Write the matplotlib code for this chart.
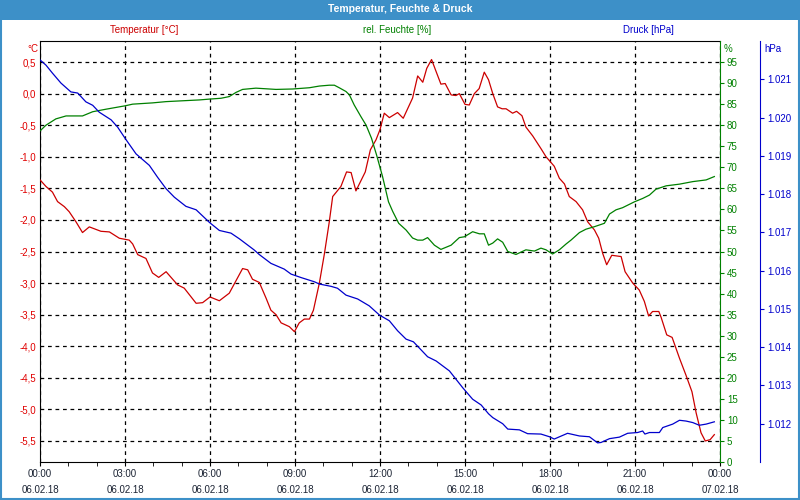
import matplotlib
matplotlib.use("Agg")
import matplotlib.pyplot as plt
from matplotlib.patches import Rectangle
from matplotlib.ticker import FuncFormatter, MultipleLocator

plt.rcParams['font.family'] = ['Liberation Sans', 'DejaVu Sans']

# hours since 06.02.18 00:00
temp_h = [0.01, 0.21, 0.44, 0.62, 0.86, 1.03, 1.27, 1.50, 1.74, 2.15, 2.45, 2.80, 3.15, 3.27,
          3.45, 3.74, 3.97, 4.19, 4.45, 4.86, 5.09, 5.51, 5.74, 6.00, 6.33, 6.68, 7.15, 7.33,
          7.50, 7.74, 7.98, 8.15, 8.33, 8.51, 8.80, 8.98, 9.15, 9.33, 9.51, 9.65, 9.86, 10.04,
          10.21, 10.33, 10.62, 10.82, 10.98, 11.15, 11.48, 11.66, 11.86, 12.00, 12.15, 12.33,
          12.62, 12.82, 13.15, 13.33, 13.51, 13.65, 13.82, 13.98, 14.15, 14.30, 14.51, 14.68,
          14.80, 15.00, 15.15, 15.33, 15.50, 15.68, 15.83, 15.98, 16.15, 16.31, 16.45, 16.68,
          16.82, 17.01, 17.15, 17.39, 17.68, 17.86, 18.15, 18.33, 18.51, 18.68, 18.92, 19.15,
          19.33, 19.57, 19.72, 19.86, 20.00, 20.18, 20.51, 20.65, 20.92, 21.15, 21.33, 21.48,
          21.62, 21.84, 21.92, 22.12, 22.31, 22.57, 22.80, 23.01, 23.16, 23.33, 23.48, 23.65,
          23.80]
temp_c = [-1.37, -1.47, -1.56, -1.71, -1.79, -1.87, -2.03, -2.20, -2.11, -2.18, -2.19, -2.29,
          -2.32, -2.38, -2.55, -2.61, -2.84, -2.91, -2.82, -3.03, -3.08, -3.32, -3.31, -3.22,
          -3.28, -3.16, -2.77, -2.79, -2.94, -2.99, -3.24, -3.43, -3.50, -3.63, -3.69, -3.77,
          -3.63, -3.57, -3.57, -3.43, -3.00, -2.53, -2.03, -1.63, -1.47, -1.24, -1.25, -1.54,
          -1.24, -0.89, -0.73, -0.57, -0.31, -0.38, -0.30, -0.39, -0.07, 0.28, 0.18, 0.40,
          0.54, 0.35, 0.15, 0.16, -0.02, -0.03, 0.00, -0.17, -0.18, 0.00, 0.08, 0.34, 0.22,
          0.00, -0.21, -0.24, -0.24, -0.31, -0.28, -0.35, -0.53, -0.67, -0.87, -1.00, -1.15,
          -1.34, -1.43, -1.63, -1.71, -1.84, -2.03, -2.16, -2.29, -2.53, -2.71, -2.56, -2.58,
          -2.82, -3.00, -3.11, -3.29, -3.52, -3.45, -3.45, -3.54, -3.82, -3.86, -4.19, -4.46,
          -4.72, -5.06, -5.37, -5.50, -5.48, -5.40]

hum_h = [0.01, 0.21, 0.56, 0.92, 1.50, 1.86, 2.33, 3.00, 3.27, 3.97, 4.45, 5.03, 5.62, 5.98,
         6.39, 6.68, 6.92, 7.15, 7.62, 8.33, 8.92, 9.51, 9.86, 10.21, 10.39, 10.56, 10.80,
         10.92, 11.09, 11.33, 11.51, 11.70, 11.88, 12.09, 12.30, 12.45, 12.66, 12.92, 13.15,
         13.33, 13.51, 13.68, 13.92, 14.15, 14.51, 14.80, 14.98, 15.27, 15.51, 15.68, 15.83,
         15.98, 16.15, 16.33, 16.51, 16.80, 17.15, 17.45, 17.68, 17.86, 18.09, 18.33, 18.57,
         18.74, 19.04, 19.27, 19.57, 19.92, 20.10, 20.33, 20.56, 20.98, 21.27, 21.51, 21.74,
         22.10, 22.57, 23.04, 23.51, 23.80]
hum_pct = [78.7, 80.0, 81.5, 82.2, 82.2, 83.2, 83.8, 84.6, 85.0, 85.3, 85.6, 85.8, 86.0, 86.2,
           86.4, 86.8, 87.8, 88.5, 88.8, 88.5, 88.6, 88.9, 89.3, 89.5, 89.5, 88.9, 88.0, 87.2,
           84.8, 82.0, 80.0, 76.9, 72.9, 67.8, 61.8, 59.5, 56.7, 55.1, 53.2, 52.7, 52.7, 53.3,
           51.5, 50.5, 51.5, 53.3, 53.5, 54.7, 54.2, 54.2, 51.5, 52.0, 53.0, 52.2, 50.0, 49.3,
           50.4, 50.1, 50.8, 50.4, 49.4, 50.4, 51.8, 52.7, 54.5, 55.3, 55.9, 56.7, 58.9, 59.9,
           60.4, 61.8, 62.6, 63.4, 64.8, 65.6, 66.0, 66.6, 67.0, 67.8]

pres_h = [0.01, 0.21, 0.44, 0.74, 1.09, 1.33, 1.62, 1.86, 2.09, 2.51, 2.74, 3.01, 3.39, 3.86,
          4.15, 4.45, 4.74, 5.15, 5.51, 5.98, 6.33, 6.74, 7.04, 7.56, 7.74, 8.15, 8.62, 8.86,
          9.21, 9.68, 9.86, 10.27, 10.50, 10.80, 11.21, 11.62, 11.98, 12.33, 12.62, 12.92,
          13.18, 13.68, 13.98, 14.45, 14.92, 15.27, 15.57, 15.83, 15.98, 16.33, 16.51, 16.92,
          17.21, 17.68, 17.98, 18.15, 18.62, 19.04, 19.39, 19.68, 19.80, 20.10, 20.45, 20.74,
          21.09, 21.27, 21.35, 21.51, 21.86, 21.98, 22.33, 22.57, 22.80, 23.04, 23.27, 23.51,
          23.80]
pres_hpa = [1.02150, 1.02137, 1.02116, 1.02090, 1.02067, 1.02064, 1.02041, 1.02032, 1.02014,
            1.01994, 1.01975, 1.01945, 1.01905, 1.01875, 1.01844, 1.01814, 1.01792, 1.01768,
            1.01759, 1.01726, 1.01705, 1.01698, 1.01683, 1.01654, 1.01642, 1.01619, 1.01604,
            1.01591, 1.01582, 1.01571, 1.01565, 1.01559, 1.01554, 1.01536, 1.01526, 1.01508,
            1.01484, 1.01469, 1.01443, 1.01421, 1.01414, 1.01375, 1.01364, 1.01338, 1.01294,
            1.01264, 1.01249, 1.01226, 1.01216, 1.01200, 1.01186, 1.01184, 1.01174, 1.01173,
            1.01166, 1.01160, 1.01175, 1.01168, 1.01166, 1.01150, 1.01151, 1.01161, 1.01165,
            1.01175, 1.01177, 1.01181, 1.01173, 1.01177, 1.01177, 1.01190, 1.01199, 1.01209,
            1.01207, 1.01203, 1.01196, 1.01199, 1.01205]

RED, GREEN, BLUE = "#cc0000", "#008000", "#0000cc"
BAR = "#3d90c8"
fs = 7

fig = plt.figure(figsize=(8, 5), dpi=100)
ax = fig.add_axes([0.05, 0.076, 0.85, 0.842])
ax2 = ax.twinx()
ax3 = ax.twinx()

# title bar and frame
fig.patches.append(Rectangle((0, 0.96), 1, 0.04, transform=fig.transFigure,
                             facecolor=BAR, edgecolor="none", zorder=-1))
fig.patches.append(Rectangle((0.0015, 0.002), 0.997, 0.996, transform=fig.transFigure,
                             facecolor="none", edgecolor=BAR, lw=1.5, zorder=5))
fig.text(0.5, 0.981, "Temperatur, Feuchte & Druck", color="white", fontweight="bold",
         fontsize=7.5, ha="center", va="center")
fig.text(0.18, 0.94, "Temperatur [°C]", color=RED, fontsize=fs, ha="center", va="center")
fig.text(0.496, 0.94, "rel. Feuchte [%]", color=GREEN, fontsize=fs, ha="center", va="center")
fig.text(0.811, 0.94, "Druck [hPa]", color=BLUE, fontsize=fs, ha="center", va="center")

ax.plot(temp_h, temp_c, color=RED, lw=0.9, zorder=3)
ax2.plot(hum_h, hum_pct, color=GREEN, lw=0.9)
ax3.plot(pres_h, pres_hpa, color=BLUE, lw=0.9)

ax.set_xlim(0, 24)
ax.set_ylim(-5.8333, 0.8333)
ax2.set_ylim(0, 100)
ax3.set_ylim(1.011, 1.022)

# temperature axis
ax.set_yticks([v / 2 for v in range(-11, 2)])
ax.yaxis.set_major_formatter(FuncFormatter(lambda v, p: f"{v:.1f}".replace(".", ",")))
ax.tick_params(axis="y", length=0, pad=3, labelsize=fs, labelcolor="#e00000")
ax.text(-0.003, 0.993, "°C", transform=ax.transAxes, color="#e00000", fontsize=fs,
        ha="right", va="top")

# time axis
def fmt_time(v, p):
    h = int(round(v))
    day = 6 + h // 24
    return f"{h % 24:02d}:00\n{day:02d}.02.18"

ax.xaxis.set_major_locator(MultipleLocator(3))
ax.xaxis.set_minor_locator(MultipleLocator(1))
ax.xaxis.set_major_formatter(FuncFormatter(fmt_time))
ax.tick_params(axis="x", which="both", length=3, direction="out", labelsize=fs,
               labelcolor="#1c2434", pad=2)
for lbl in ax.get_xticklabels():
    lbl.set_linespacing(1.75)

ax.grid(True, which="major", color="black", linestyle=(0, (3, 3)), lw=0.9)
for s in ["left", "bottom", "top"]:
    ax.spines[s].set_color("black")
ax.spines["right"].set_visible(False)

# humidity axis
ax2.set_yticks(range(0, 100, 5))
ax2.tick_params(axis="y", colors=GREEN, labelsize=fs, length=3, pad=2)
for s in ["left", "bottom", "top"]:
    ax2.spines[s].set_visible(False)
ax2.spines["right"].set_color(GREEN)
ax2.text(1.006, 0.993, "%", transform=ax2.transAxes, color=GREEN, fontsize=fs,
         ha="left", va="top")

# pressure axis
ax3.spines["right"].set_position(("axes", 1.0588))
ax3.set_yticks([1.012 + i * 0.001 for i in range(10)])
ax3.yaxis.set_major_formatter(FuncFormatter(lambda v, p: f"{v:.3f}"))
ax3.tick_params(axis="y", colors=BLUE, labelsize=fs, length=3, pad=2)
for s in ["left", "bottom", "top"]:
    ax3.spines[s].set_visible(False)
ax3.spines["right"].set_color(BLUE)
ax3.text(1.065, 0.993, "hPa", transform=ax3.transAxes, color=BLUE, fontsize=fs,
         ha="left", va="top")

fig.savefig("out.png", dpi=100)
